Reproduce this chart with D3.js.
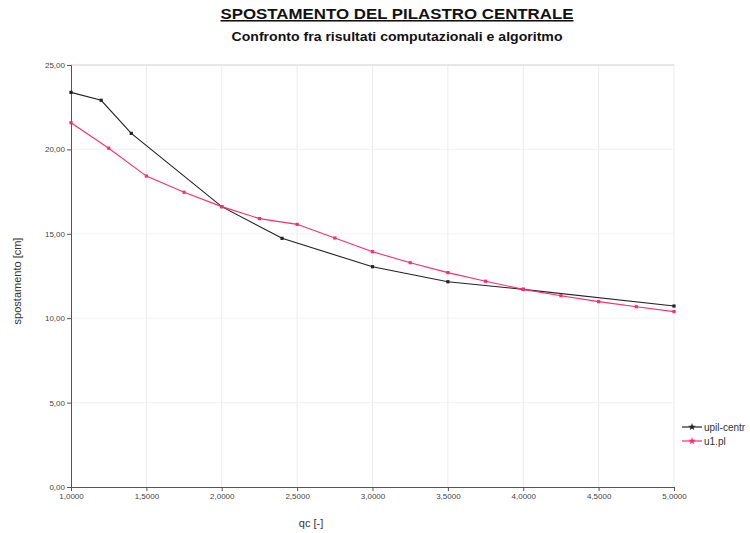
<!DOCTYPE html>
<html>
<head>
<meta charset="utf-8">
<script src="https://cdn.jsdelivr.net/npm/d3@7"></script>
<style>
  body { margin: 0; background: #fff; }
  svg { font-family: "Liberation Sans", Arial, sans-serif; }
</style>
</head>
<body>
<div id="chart"></div>
<script>
// Spostamento del pilastro centrale — two series vs qc

const xTicks = [1.0, 1.5, 2.0, 2.5, 3.0, 3.5, 4.0, 4.5, 5.0];
const yTicks = [0, 5, 10, 15, 20, 25];

const upilX = [1.0, 1.2, 1.4, 2.0, 2.4, 3.0, 3.5, 4.0, 5.0];
const upilY = [23.38, 22.91, 20.95, 16.61, 14.73, 13.05, 12.16, 11.71, 10.72];

const u1X = [1.0, 1.25, 1.5, 1.75, 2.0, 2.25, 2.5, 2.75, 3.0, 3.25, 3.5, 3.75, 4.0, 4.25, 4.5, 4.75, 5.0];
const u1Y = [21.58, 20.07, 18.42, 17.46, 16.61, 15.9, 15.56, 14.75, 13.94, 13.29, 12.7, 12.19, 11.71, 11.33, 10.98, 10.68, 10.39];

const series = [
  {name: "upil-centr", color: "#222222", xs: upilX, ys: upilY},
  {name: "u1.pl", color: "#ff2d6a", xs: u1X, ys: u1Y}
];

const W = 750, H = 533;
const L = 71, R = 674, T = 65, B = 487;

const x = d3.scaleLinear().domain([1, 5]).range([L, R]);
const y = d3.scaleLinear().domain([0, 25]).range([B, T]);

const svg = d3.select("#chart").append("svg").attr("width", W).attr("height", H);

// Titles
svg.append("text").attr("x", 397).attr("y", 19).attr("text-anchor", "middle")
  .attr("font-size", "15.5px").attr("font-weight", "bold").attr("fill", "#111")
  .attr("textLength", 353).attr("lengthAdjust", "spacingAndGlyphs")
  .attr("text-decoration", "underline").text("SPOSTAMENTO DEL PILASTRO CENTRALE");
svg.append("text").attr("x", 397).attr("y", 41).attr("text-anchor", "middle")
  .attr("font-size", "13.5px").attr("font-weight", "bold").attr("fill", "#111")
  .attr("textLength", 331).attr("lengthAdjust", "spacingAndGlyphs")
  .text("Confronto fra risultati computazionali e algoritmo");

// Grid
svg.append("g").selectAll("line").data(xTicks.slice(1)).enter().append("line")
  .attr("x1", d => x(d)).attr("x2", d => x(d)).attr("y1", T).attr("y2", B)
  .attr("stroke", "#ececec").attr("stroke-width", 1);
svg.append("g").selectAll("line").data(yTicks.slice(1)).enter().append("line")
  .attr("x1", L).attr("x2", R).attr("y1", d => y(d)).attr("y2", d => y(d))
  .attr("stroke", d => d === 25 ? "#cfcfcf" : "#f2f2f2").attr("stroke-width", 1);

// Axes
const fmtY = d => d3.format(".2f")(d).replace(".", ",");
const fmtX = d => d3.format(".4f")(d).replace(".", ",");

const yAxis = svg.append("g").attr("transform", `translate(${L},0)`)
  .call(d3.axisLeft(y).tickValues(yTicks).tickFormat(fmtY).tickSize(4).tickPadding(2));
const xAxis = svg.append("g").attr("transform", `translate(0,${B})`)
  .call(d3.axisBottom(x).tickValues(xTicks).tickFormat(fmtX).tickSize(4).tickPadding(2));
[yAxis, xAxis].forEach(a => {
  a.select(".domain").attr("stroke", "#555");
  a.selectAll(".tick line").attr("stroke", "#555");
  a.selectAll(".tick text").attr("fill", "#444").attr("font-size", "8px")
    .attr("font-family", "\"Liberation Sans\", Arial, sans-serif");
});

// Axis titles
svg.append("text").attr("transform", "translate(21,281) rotate(-90)").attr("text-anchor", "middle")
  .attr("font-size", "11px").attr("fill", "#333").text("spostamento [cm]");
svg.append("text").attr("x", 311).attr("y", 527).attr("text-anchor", "middle")
  .attr("font-size", "11px").attr("fill", "#333").text("qc [-]");

// Lines and markers
const line = d3.line().x(d => x(d[0])).y(d => y(d[1]));
series.forEach(s => {
  const pts = s.xs.map((v, i) => [v, s.ys[i]]);
  svg.append("path").datum(pts).attr("d", line)
    .attr("fill", "none").attr("stroke", s.color).attr("stroke-width", 1.1);
  svg.append("g").selectAll("rect").data(pts).enter().append("rect")
    .attr("x", d => x(d[0]) - 1.6).attr("y", d => y(d[1]) - 1.6)
    .attr("width", 3.2).attr("height", 3.2).attr("fill", s.color);
});

// Legend
const leg = svg.append("g").attr("transform", "translate(682,427)");
series.forEach((s, i) => {
  const g = leg.append("g").attr("transform", `translate(0,${i * 14})`);
  g.append("line").attr("x1", 0).attr("x2", 20).attr("y1", 0).attr("y2", 0)
    .attr("stroke", s.color).attr("stroke-width", 1.2);
  g.append("path").attr("d", d3.symbol(d3.symbolStar, 18)()).attr("transform", "translate(10,0)")
    .attr("fill", s.color);
  g.append("text").attr("x", 22).attr("y", 3.5).attr("font-size", "10px").attr("fill", "#333").text(s.name);
});
</script>
</body>
</html>
